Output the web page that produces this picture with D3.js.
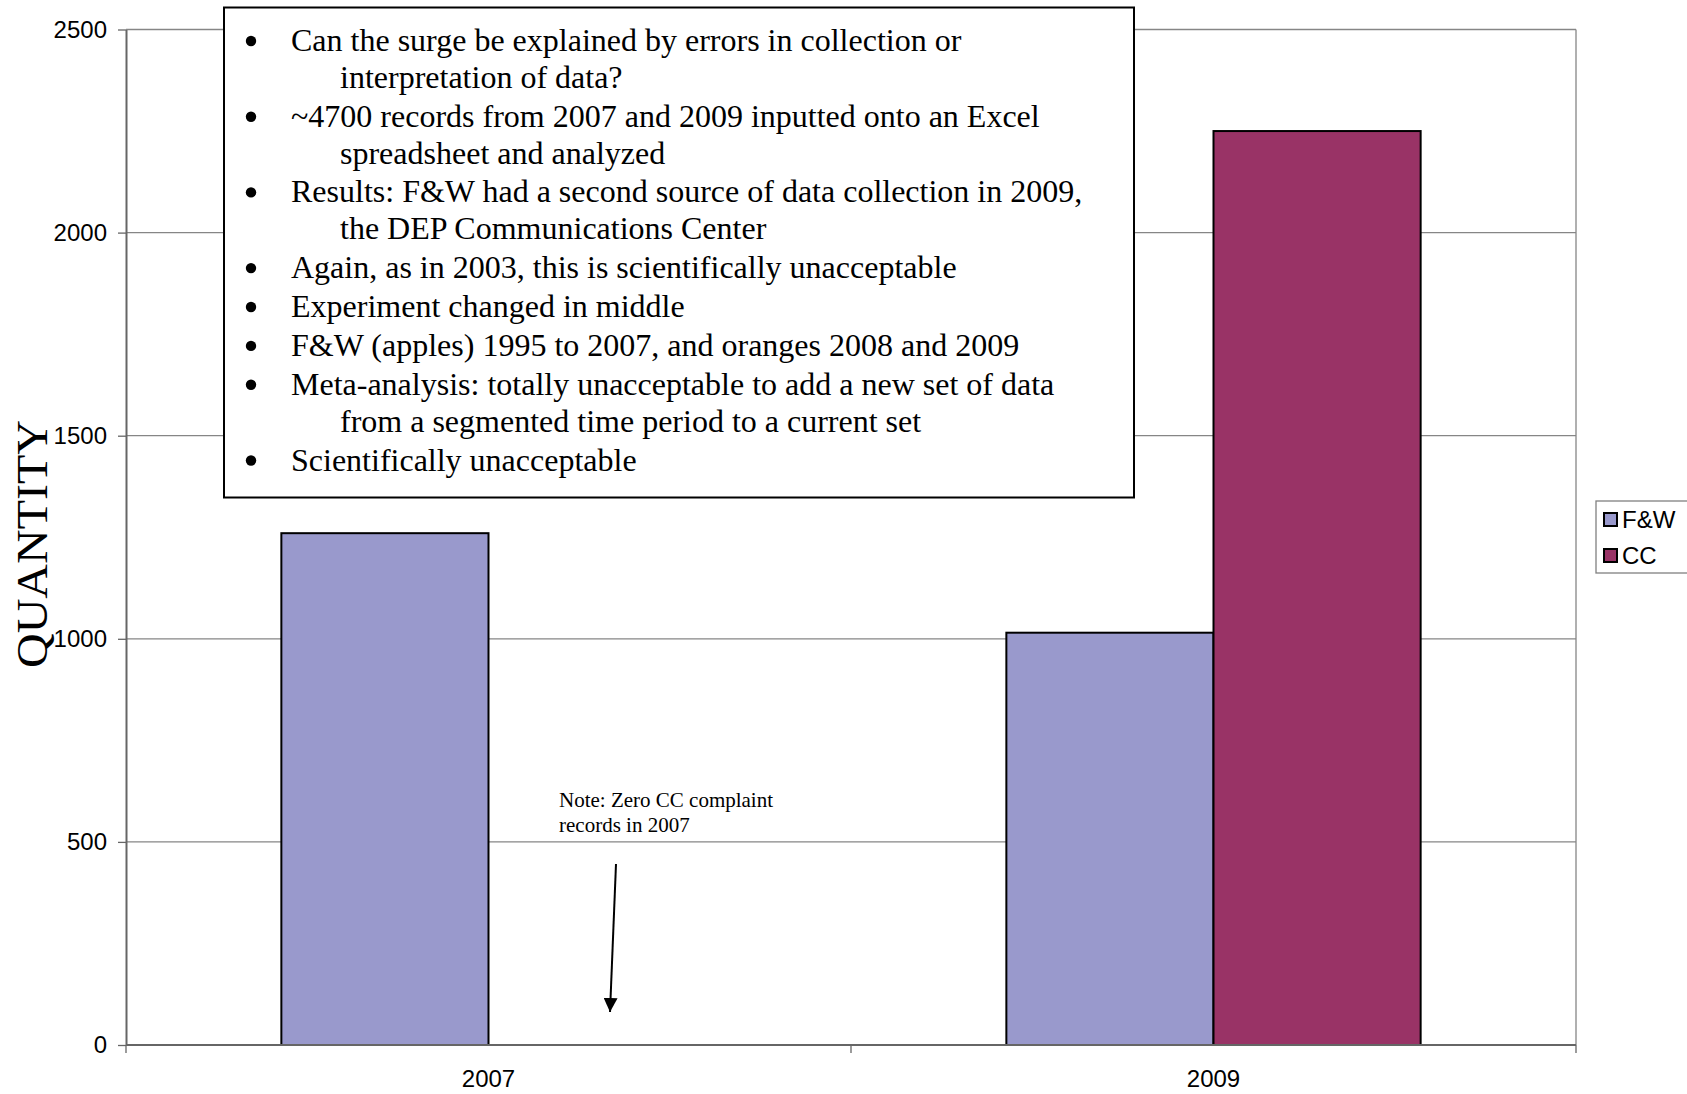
<!DOCTYPE html>
<html>
<head>
<meta charset="utf-8">
<script src="https://cdn.jsdelivr.net/npm/d3@7"></script>
<style>
  body { margin: 0; background: #fff; }
  svg { display: block; }
  .tick text { font-family: "Liberation Sans", Arial, sans-serif; font-size: 24px; fill: #000; }
  .serif { font-family: "Liberation Serif", "Times New Roman", serif; fill: #000; }
</style>
</head>
<body>
<svg id="chart"></svg>
<script>
const years = ['2007', '2009'];
const seriesNames = ['F&W', 'CC'];
const fwValues = [1260, 1015];
const ccValues = [0, 2250];
const seriesColors = ['#9999cc', '#993366'];
const yTicks = [0, 500, 1000, 1500, 2000, 2500];

const bulletItems = [
  ['Can the surge be explained by errors in collection or', 'interpretation of data?'],
  ['~4700 records from 2007 and 2009 inputted onto an Excel', 'spreadsheet and analyzed'],
  ['Results: F&W had a second source of data collection in 2009,', 'the DEP Communications Center'],
  ['Again, as in 2003, this is scientifically unacceptable'],
  ['Experiment changed in middle'],
  ['F&W (apples) 1995 to 2007, and oranges 2008 and 2009'],
  ['Meta-analysis: totally unacceptable to add a new set of data', 'from a segmented time period to a current set'],
  ['Scientifically unacceptable'],
];
const noteLines = ['Note: Zero CC complaint', 'records in 2007'];

const width = 1687;
const height = 1094;
const margin = { top: 29.5, right: 111, bottom: 49, left: 126 };
const innerWidth = width - margin.left - margin.right;
const innerHeight = height - margin.top - margin.bottom;

const svg = d3.select('#chart')
  .attr('width', width)
  .attr('height', height);

const data = years.map((yr, i) => ({ year: yr, values: [fwValues[i], ccValues[i]] }));

const x = d3.scaleBand()
  .domain(years)
  .range([0, innerWidth])
  .padding(0);
const x1 = d3.scaleBand()
  .domain(seriesNames)
  .range([0, x.bandwidth()])
  .paddingInner(0)
  .paddingOuter(0.75);
const y = d3.scaleLinear()
  .domain([0, 2500])
  .range([innerHeight, 0]);

const g = svg.append('g')
  .attr('transform', `translate(${margin.left}, ${margin.top})`);

// gridlines
g.append('g')
  .selectAll('line')
  .data(yTicks)
  .enter().append('line')
    .attr('x1', 0)
    .attr('x2', innerWidth)
    .attr('y1', d => y(d))
    .attr('y2', d => y(d))
    .attr('stroke', '#868686')
    .attr('stroke-width', 1.3);

// plot area right edge
g.append('line')
  .attr('x1', innerWidth)
  .attr('x2', innerWidth)
  .attr('y1', 0)
  .attr('y2', innerHeight)
  .attr('stroke', '#868686')
  .attr('stroke-width', 1.3);

// bars
const groups = g.selectAll('.group')
  .data(data)
  .enter().append('g')
    .attr('class', 'group')
    .attr('transform', d => `translate(${x(d.year)}, 0)`);

groups.selectAll('rect')
  .data(d => d.values.map((v, i) => ({ name: seriesNames[i], value: v, color: seriesColors[i] })).filter(d => d.value > 0))
  .enter().append('rect')
    .attr('x', d => x1(d.name))
    .attr('y', d => y(d.value))
    .attr('width', x1.bandwidth())
    .attr('height', d => innerHeight - y(d.value))
    .attr('fill', d => d.color)
    .attr('stroke', '#000')
    .attr('stroke-width', 2);

// y axis
const yAxis = g.append('g')
  .call(d3.axisLeft(y).tickValues(yTicks).tickFormat(d3.format('d')).tickSize(8).tickPadding(11).tickSizeOuter(0));
yAxis.select('.domain').attr('stroke', '#666').attr('stroke-width', 2);
yAxis.selectAll('.tick line').attr('stroke', '#666').attr('stroke-width', 1.3);

// x axis: boundary ticks
const boundaries = years.map(d => x(d)).concat([innerWidth]);
const xAxisG = g.append('g')
  .attr('transform', `translate(0, ${innerHeight})`);
xAxisG.append('line')
  .attr('x1', 0)
  .attr('x2', innerWidth)
  .attr('stroke', '#666')
  .attr('stroke-width', 2);
xAxisG.selectAll('line.bt')
  .data(boundaries)
  .enter().append('line')
    .attr('class', 'bt')
    .attr('x1', d => d)
    .attr('x2', d => d)
    .attr('y1', 0)
    .attr('y2', 8)
    .attr('stroke', '#666')
    .attr('stroke-width', 1.3);
xAxisG.append('g')
  .call(d3.axisBottom(x).tickSize(0).tickPadding(25))
  .select('.domain').remove();

// y axis title
svg.append('text')
  .attr('class', 'serif')
  .attr('transform', 'translate(47, 544) rotate(-90)')
  .attr('text-anchor', 'middle')
  .attr('font-size', 45)
  .attr('textLength', 248)
  .attr('lengthAdjust', 'spacingAndGlyphs')
  .text('QUANTITY');

// legend
const legend = svg.append('g')
  .attr('transform', 'translate(1596, 501)');
legend.append('rect')
  .attr('width', 94)
  .attr('height', 72)
  .attr('fill', '#fff')
  .attr('stroke', '#808080')
  .attr('stroke-width', 1.3);
const legendItems = legend.selectAll('.item')
  .data(seriesNames)
  .enter().append('g')
    .attr('class', 'item')
    .attr('transform', (d, i) => `translate(8, ${12 + i * 36})`);
legendItems.append('rect')
  .attr('width', 13)
  .attr('height', 13)
  .attr('fill', (d, i) => seriesColors[i])
  .attr('stroke', '#000')
  .attr('stroke-width', 2);
legendItems.append('text')
  .attr('x', 18)
  .attr('y', 15)
  .attr('font-family', '"Liberation Sans", Arial, sans-serif')
  .attr('font-size', 24)
  .text(d => d);

// annotation text box
const box = svg.append('g');
box.append('rect')
  .attr('x', 224)
  .attr('y', 7.5)
  .attr('width', 910)
  .attr('height', 490)
  .attr('fill', '#fff')
  .attr('stroke', '#000')
  .attr('stroke-width', 2);

let baseline = 51;
bulletItems.forEach((lines, i) => {
  if (i > 0) baseline += 38.9;
  box.append('circle')
    .attr('cx', 251)
    .attr('cy', baseline - 10)
    .attr('r', 5.2)
    .attr('fill', '#000');
  lines.forEach((line, j) => {
    if (j > 0) baseline += 36.8;
    box.append('text')
      .attr('class', 'serif')
      .attr('x', j === 0 ? 291 : 340)
      .attr('y', baseline)
      .attr('font-size', 32)
      .text(line);
  });
});

// note and arrow
svg.append('defs').append('marker')
  .attr('id', 'arrowhead')
  .attr('viewBox', '0 0 10 10')
  .attr('refX', 10)
  .attr('refY', 5)
  .attr('markerWidth', 7)
  .attr('markerHeight', 7)
  .attr('orient', 'auto')
  .attr('markerUnits', 'strokeWidth')
  .append('path')
    .attr('d', 'M0,0 L10,5 L0,10 Z')
    .attr('fill', '#000');

noteLines.forEach((line, i) => {
  svg.append('text')
    .attr('class', 'serif')
    .attr('x', 559)
    .attr('y', 806.5 + i * 25)
    .attr('font-size', 21)
    .text(line);
});

svg.append('line')
  .attr('x1', 616)
  .attr('y1', 864)
  .attr('x2', 610)
  .attr('y2', 1012)
  .attr('stroke', '#000')
  .attr('stroke-width', 2)
  .attr('marker-end', 'url(#arrowhead)');
</script>
</body>
</html>
